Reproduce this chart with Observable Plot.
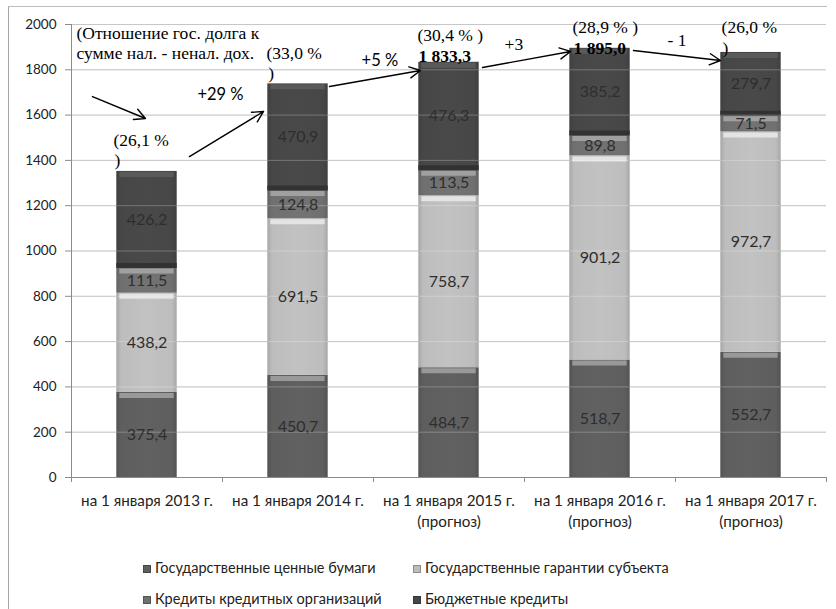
<!DOCTYPE html>
<html><head><meta charset="utf-8">
<script src="https://cdn.jsdelivr.net/npm/d3@7"></script>
<script src="https://cdn.jsdelivr.net/npm/@observablehq/plot@0.6"></script>
<style>
html,body{margin:0;padding:0;background:#fff;}
#wrap{position:relative;width:836px;height:609px;overflow:hidden;font-family:Lato,"Open Sans",sans-serif;}
#frame{position:absolute;left:8px;top:6px;width:818px;height:700px;border-left:1px solid #a6a6a6;border-top:1px solid #bdbdbd;}
#chart{position:absolute;left:0;top:0;}
.leg{position:absolute;font-size:14.5px;color:#222;white-space:nowrap;line-height:16px;}
.sw{display:inline-block;width:8px;height:8px;margin-right:4px;vertical-align:0px;border:1px solid rgba(0,0,0,0.25);box-sizing:border-box;}
</style></head>
<body><div id="wrap"><div id="frame"></div><div id="chart"></div></div>
<script>
// ---- data ----
const categories = [
  "на 1 января 2013 г.",
  "на 1 января 2014 г.",
  "на 1 января 2015 г.\n(прогноз)",
  "на 1 января 2016 г.\n(прогноз)",
  "на 1 января 2017 г.\n(прогноз)"
];
const seriesNames = [
  "Государственные ценные бумаги",
  "Государственные гарантии субъекта",
  "Кредиты кредитных организаций",
  "Бюджетные кредиты"
];
const securities = [375.4, 450.7, 484.7, 518.7, 552.7];
const guarantees = [438.2, 691.5, 758.7, 901.2, 972.7];
const creditOrg  = [111.5, 124.8, 113.5, 89.8, 71.5];
const budget     = [426.2, 470.9, 476.3, 385.2, 279.7];
const yTicks = [0, 200, 400, 600, 800, 1000, 1200, 1400, 1600, 1800, 2000];

// annotations: x in category-index units, y in value units
const notes = [
  {text: "(Отношение гос. долга к", x: -0.467, y: 1960, bold: false, serif: true},
  {text: "сумме нал. - ненал. дох.", x: -0.467, y: 1872, bold: false, serif: true},
  {text: "(26,1 %", x: -0.222, y: 1488, bold: false, serif: true},
  {text: ")", x: -0.215, y: 1400, bold: false, serif: true},
  {text: "+29 %", x: 0.334, y: 1691, bold: false, serif: false},
  {text: "(33,0 %", x: 0.791, y: 1872, bold: false, serif: true},
  {text: ")", x: 0.803, y: 1784, bold: false, serif: true},
  {text: "+5 %", x: 1.421, y: 1841, bold: false, serif: false},
  {text: "(30,4 % )", x: 1.791, y: 1951, bold: false, serif: true},
  {text: "1 833,3", x: 1.798, y: 1859, bold: true, serif: true},
  {text: "+3", x: 2.368, y: 1912, bold: false, serif: true},
  {text: "(28,9 % )", x: 2.818, y: 1987, bold: false, serif: true},
  {text: "1 895,0", x: 2.825, y: 1894, bold: true, serif: true},
  {text: "- 1", x: 3.447, y: 1929, bold: false, serif: true},
  {text: "(26,0 %", x: 3.805, y: 1987, bold: false, serif: true},
  {text: ")", x: 3.811, y: 1894, bold: false, serif: true}
];
const arrows = [
  {x1: -0.361, y1: 1682, x2: -0.010, y2: 1585},
  {x1: 0.281, y1: 1417, x2: 0.772, y2: 1616},
  {x1: 1.209, y1: 1726, x2: 1.811, y2: 1797},
  {x1: 2.222, y1: 1810, x2: 2.805, y2: 1881},
  {x1: 3.222, y1: 1885, x2: 3.798, y2: 1841}
];

// styles
const baseColors = ["#5e5e5e", "#bdbdbd", "#707070", "#474747"];
const bevelColors = ["#999999", "#e4e4e4", "#a0a0a0", "#5a5a5a"];

// ---- build stacked rows ----
const seriesValues = [securities, guarantees, creditOrg, budget];
const rows = [];
categories.forEach((c, i) => {
  let acc = 0;
  seriesValues.forEach((vals, k) => {
    const v = vals[i];
    rows.push({i, k, series: seriesNames[k], value: v, y1: acc, y2: acc + v});
    acc += v;
  });
});
const fmt = v => v.toFixed(1).replace(".", ",");
const half = 0.2;

const marks = [
  Plot.gridY(yTicks.filter(v => v > 0), {stroke: "#b4b4b4", strokeOpacity: 1}),
];
seriesNames.forEach((s, k) => {
  const sub = rows.filter(d => d.k === k);
  marks.push(Plot.rect(sub, {x1: d => d.i - half, x2: d => d.i + half, y1: "y1", y2: "y2", fill: `url(#grad${k})`}));
});
seriesNames.forEach((s, k) => {
  const sub = rows.filter(d => d.k === k);
  marks.push(Plot.ruleY(sub, {y: "y2", x1: d => d.i - half + 0.02, x2: d => d.i + half - 0.02, stroke: bevelColors[k], strokeWidth: 5, dy: 3}));
});
marks.push(Plot.ruleY(rows.filter(d => d.k === 3), {y: "y1", x1: d => d.i - half, x2: d => d.i + half, stroke: "#323232", strokeWidth: 5, dy: -2.5}));
marks.push(Plot.gridY(yTicks.filter(v => v > 0), {stroke: "#ffffff", strokeOpacity: 0.25}));
marks.push(Plot.text(rows, {x: "i", y: d => (d.y1 + d.y2) / 2, text: d => fmt(d.value), fill: "#2e2e2e", fontSize: 16}));
marks.push(Plot.ruleX([-0.5], {stroke: "#8c8c8c", y1: 0, y2: 2000}));
marks.push(Plot.ruleY([0], {stroke: "#8c8c8c"}));
marks.push(Plot.axisY({ticks: yTicks, tickSize: 6, tickPadding: 9, tickFormat: d => String(d), fontSize: 13.5, stroke: "#8c8c8c", fill: "#222"}));
marks.push(Plot.axisX({ticks: [-0.5, 0.5, 1.5, 2.5, 3.5, 4.5], tickSize: 5, tickFormat: () => "", stroke: "#8c8c8c"}));
marks.push(Plot.axisX({ticks: [0, 1, 2, 3, 4], tickSize: 0, tickPadding: 14, tickFormat: i => categories[i], fontSize: 15.2, lineHeight: 1.35, fill: "#222"}));
marks.push(Plot.arrow(arrows, {x1: "x1", y1: "y1", x2: "x2", y2: "y2", stroke: "#000", strokeWidth: 1.4, headLength: 13, headAngle: 55}));
marks.push(Plot.text(notes.filter(d => d.serif && !d.bold), {x: "x", y: "y", text: "text", textAnchor: "start", fontFamily: "Liberation Serif", fontSize: 17.5, fill: "#000"}));
marks.push(Plot.text(notes.filter(d => d.serif && d.bold), {x: "x", y: "y", text: "text", textAnchor: "start", fontFamily: "Liberation Serif", fontSize: 17.5, fontWeight: "bold", fill: "#000"}));
marks.push(Plot.text(notes.filter(d => !d.serif), {x: "x", y: "y", text: "text", textAnchor: "start", fontFamily: "Lato", fontSize: 16.5, fill: "#000"}));

const chart = Plot.plot({
  width: 836, height: 540,
  marginLeft: 71, marginRight: 10, marginTop: 24, marginBottom: 63,
  x: {domain: [-0.5, 4.5]},
  y: {domain: [0, 2000]},
  style: {fontFamily: "Lato, 'Open Sans', sans-serif", fontSize: "14px", color: "#222", background: "transparent", overflow: "visible"},
  marks
});

// gradient defs for bars
const ns = "http://www.w3.org/2000/svg";
const defs = document.createElementNS(ns, "defs");
baseColors.forEach((c, k) => {
  const g = document.createElementNS(ns, "linearGradient");
  g.setAttribute("id", `grad${k}`);
  g.setAttribute("x1", "0"); g.setAttribute("x2", "1"); g.setAttribute("y1", "0"); g.setAttribute("y2", "0");
  const dark = d3.color(c).darker(0.35).formatHex();
  const light = d3.color(c).brighter(0.08).formatHex();
  [[0, dark], [0.08, c], [0.5, light], [0.92, c], [1, dark]].forEach(([o, col]) => {
    const s = document.createElementNS(ns, "stop");
    s.setAttribute("offset", o); s.setAttribute("stop-color", col);
    g.appendChild(s);
  });
  defs.appendChild(g);
});
chart.insertBefore(defs, chart.firstChild);
document.getElementById("chart").appendChild(chart);

// legend
const legendPos = [[143, 560], [413, 560], [143, 591], [413, 591]];
const legendOrder = [0, 1, 2, 3];
const wrap = document.getElementById("wrap");
legendOrder.forEach((k, j) => {
  const el = document.createElement("div");
  el.className = "leg";
  el.style.left = legendPos[j][0] + "px";
  el.style.top = legendPos[j][1] + "px";
  const sw = document.createElement("span");
  sw.className = "sw";
  sw.style.background = baseColors[k];
  el.appendChild(sw);
  el.appendChild(document.createTextNode(seriesNames[k]));
  wrap.appendChild(el);
});
</script>
</body></html>
